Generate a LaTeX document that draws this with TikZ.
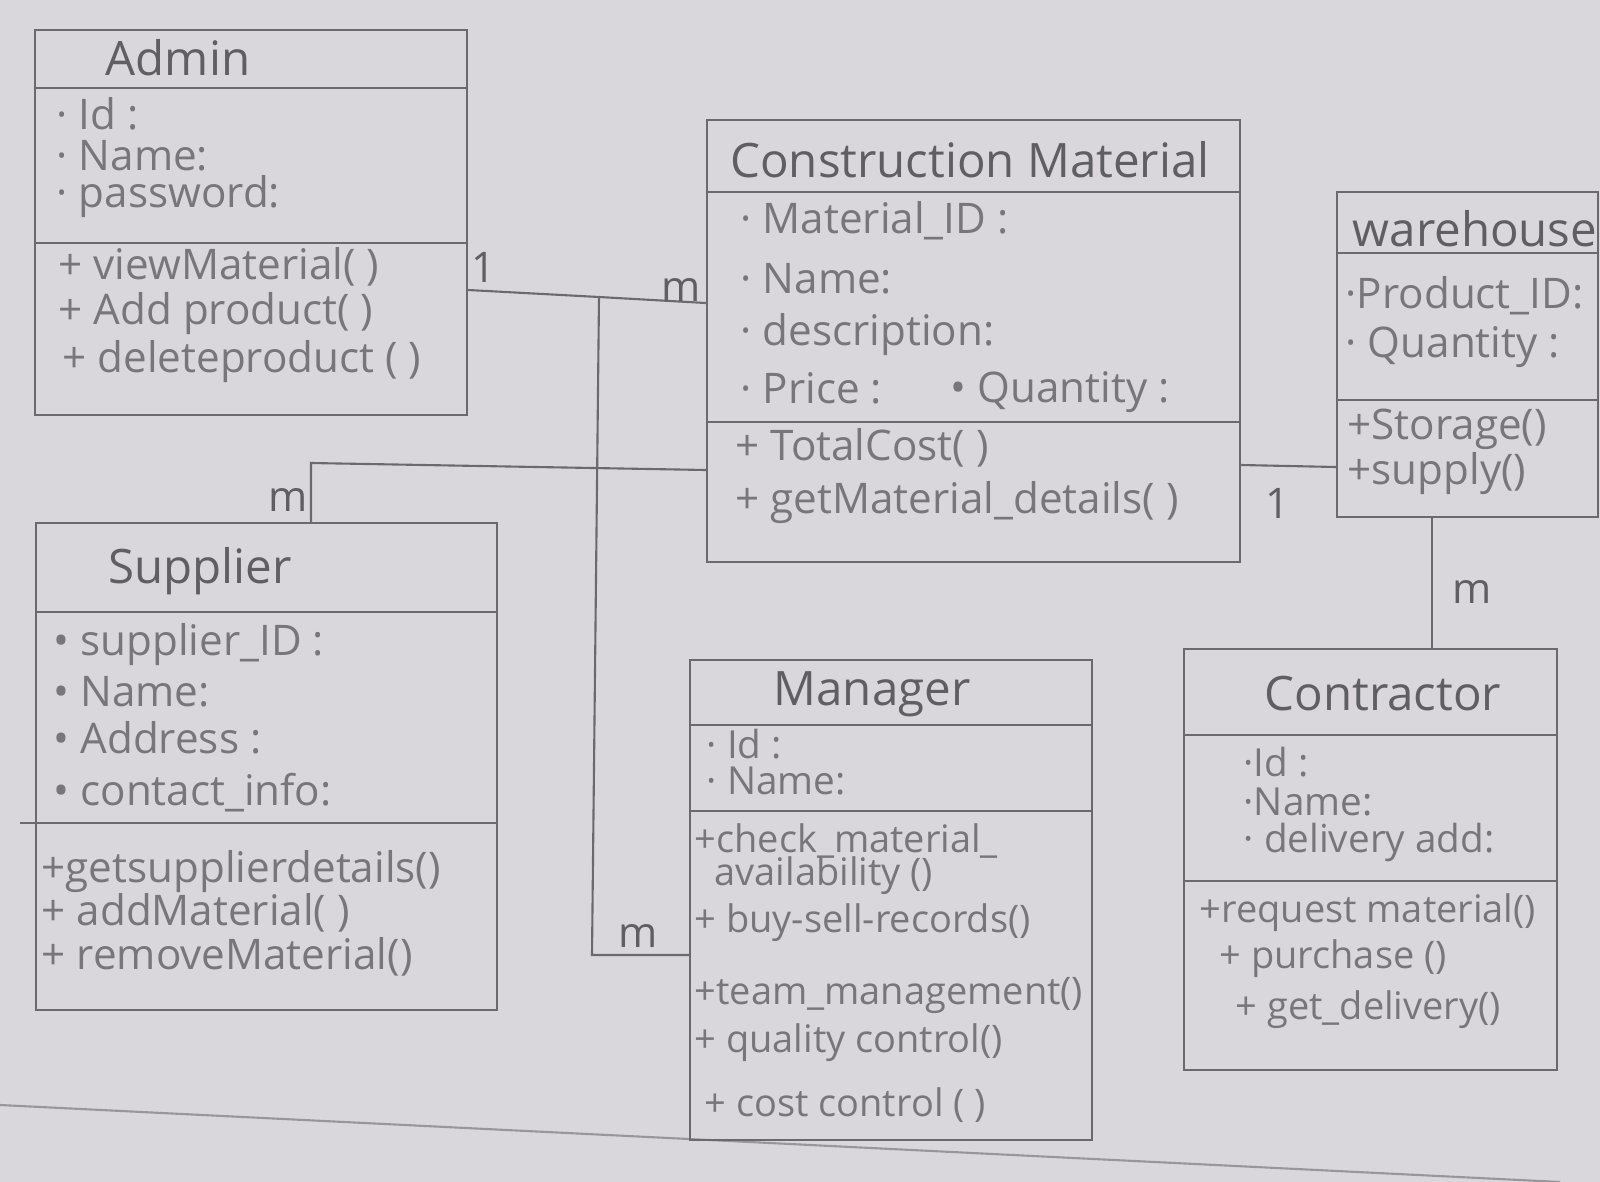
\documentclass[tikz,border=0pt]{standalone}
\usepackage{fontspec}
\setmainfont{Open Sans}
\usetikzlibrary{fit}
\definecolor{paper}{HTML}{D9D7DC}
\definecolor{pencil}{HTML}{6A696E}
\definecolor{ink}{HTML}{77767B}
\tikzset{
  umlbox/.style={draw=pencil, line width=0.7pt, inner sep=0pt, fit={#1}},
  divider/.style={draw=pencil, line width=0.7pt},
  assoc/.style={draw=pencil, line width=0.6pt},
  title/.style={text=ink!80!black, font=\fontsize{13.5}{15}\selectfont, inner sep=0pt},
  attr/.style={text=ink, font=\fontsize{12}{14}\selectfont, anchor=west, inner sep=0pt},
  meth/.style={text=ink, font=\fontsize{12}{14}\selectfont, anchor=west, inner sep=0pt},
  sattr/.style={text=ink, font=\fontsize{11}{13}\selectfont, anchor=west, inner sep=0pt},
  smeth/.style={text=ink, font=\fontsize{10.8}{12}\selectfont, anchor=west, inner sep=0pt},
  mult/.style={text=ink!80!black, font=\fontsize{12}{14}\selectfont, inner sep=0pt}
}
\begin{document}
\begin{tikzpicture}[x=0.1mm, y=-0.1mm]
\useasboundingbox[fill=paper] (0,0) rectangle (1600,1182);

% paper ruled line
\draw[pencil!70, line width=0.6pt] (0,1105) -- (1560,1182);

% ---------- Admin ----------
\node[umlbox={(35,30) (467,415)}] (admin) {};
\draw[divider] (35,88) -- (467,88);
\draw[divider] (35,243) -- (467,243);
\node[title] (admin-t) at (178,58) {Admin};
\node[attr] (admin-a1) at (56,114) {· Id :};
\node[attr] (admin-a2) at (56,156) {· Name:};
\node[attr] (admin-a3) at (56,197) {· password:};
\node[meth] (admin-m1) at (58,267) {+ viewMaterial( )};
\node[meth] (admin-m2) at (58,314) {+ Add product( )};
\node[meth] (admin-m3) at (62,362) {+ deleteproduct ( )};

% ---------- Construction Material ----------
\node[umlbox={(707,120) (1240,562)}] (cm) {};
\draw[divider] (707,192) -- (1240,192);
\draw[divider] (707,422) -- (1240,422);
\node[title] (cm-t) at (970,160) {Construction Material};
\node[attr] (cm-a1) at (740,221) {· Material\_ID :};
\node[attr] (cm-a2) at (740,279) {· Name:};
\node[attr] (cm-a3) at (740,335) {· description:};
\node[attr] (cm-a4) at (740,388) {· Price :};
\node[attr] (cm-a5) at (950,392) {• Quantity :};
\node[meth] (cm-m1) at (735,448) {+ TotalCost( )};
\node[meth] (cm-m2) at (735,503) {+ getMaterial\_details( )};

% ---------- Warehouse ----------
\node[umlbox={(1337,192) (1598,517)}] (wh) {};
\draw[divider] (1337,253) -- (1598,253);
\draw[divider] (1337,400) -- (1598,400);
\node[title, anchor=west] (wh-t) at (1352,229) {warehouse};
\node[attr] (wh-a1) at (1345,296) {·Product\_ID:};
\node[attr] (wh-a2) at (1345,347) {· Quantity :};
\node[meth] (wh-m1) at (1347,429) {+Storage()};
\node[meth] (wh-m2) at (1347,474) {+supply()};

% ---------- Supplier ----------
\node[umlbox={(36,523) (497,1010)}] (sup) {};
\draw[divider] (36,612) -- (497,612);
\draw[divider] (20,823) -- (497,823);
\node[title] (sup-t) at (200,571) {Supplier};
\node[attr] (sup-a1) at (53,645) {• supplier\_ID :};
\node[attr] (sup-a2) at (53,692) {• Name:};
\node[attr] (sup-a3) at (53,738) {• Address :};
\node[attr] (sup-a4) at (53,793) {• contact\_info:};
\node[meth] (sup-m1) at (41,872) {+getsupplierdetails()};
\node[meth] (sup-m2) at (41,913) {+ addMaterial( )};
\node[meth] (sup-m3) at (41,957) {+ removeMaterial()};

% ---------- Manager ----------
\node[umlbox={(690,660) (1092,1140)}] (mgr) {};
\draw[divider] (690,725) -- (1092,725);
\draw[divider] (690,811) -- (1092,811);
\node[title] (mgr-t) at (872,694) {Manager};
\node[sattr] (mgr-a1) at (706,744) {· Id :};
\node[sattr] (mgr-a2) at (706,781) {· Name:};
\node[smeth] (mgr-m1) at (694,841) {+check\_material\_};
\node[smeth] (mgr-m2) at (714,876) {availability ()};
\node[smeth] (mgr-m3) at (694,923) {+ buy-sell-records()};
\node[smeth] (mgr-m4) at (694,995) {+team\_management()};
\node[smeth] (mgr-m5) at (694,1043) {+ quality control()};
\node[smeth] (mgr-m6) at (704,1105) {+ cost control ( )};

% ---------- Contractor ----------
\node[umlbox={(1184,649) (1557,1070)}] (con) {};
\draw[divider] (1184,735) -- (1557,735);
\draw[divider] (1184,881) -- (1557,881);
\node[title] (con-t) at (1383,694) {Contractor};
\node[sattr] (con-a1) at (1243,762) {·Id :};
\node[sattr] (con-a2) at (1243,802) {·Name:};
\node[sattr] (con-a3) at (1243,842) {· delivery add:};
\node[smeth] (con-m1) at (1199,913) {+request material()};
\node[smeth] (con-m2) at (1219,959) {+ purchase ()};
\node[smeth] (con-m3) at (1235,1010) {+ get\_delivery()};

% ---------- connectors ----------
\coordinate (j1) at (599,297);
\coordinate (j2) at (592,955);
\coordinate (s1) at (311,463);
\draw[assoc] (admin.east |- 0,290) -- (j1) -- (cm.west |- 0,303);
\draw[assoc] (j1) -- (j2) -- (mgr.west |- j2);
\draw[assoc] (sup.north -| s1) -- (s1) -- (cm.west |- 0,470);
\draw[assoc] (cm.east |- 0,465) -- (wh.west |- 0,467);
\draw[assoc] (wh.south -| 1432,0) -- (con.north -| 1432,0);

% multiplicities
\node[mult] (l1) at (484,267) {1};
\node[mult] (l2) at (681,290) {m};
\node[mult] (l3) at (638,936) {m};
\node[mult] (l4) at (288,500) {m};
\node[mult] (l5) at (1278,503) {1};
\node[mult] (l6) at (1472,592) {m};
\end{tikzpicture}
\end{document}
